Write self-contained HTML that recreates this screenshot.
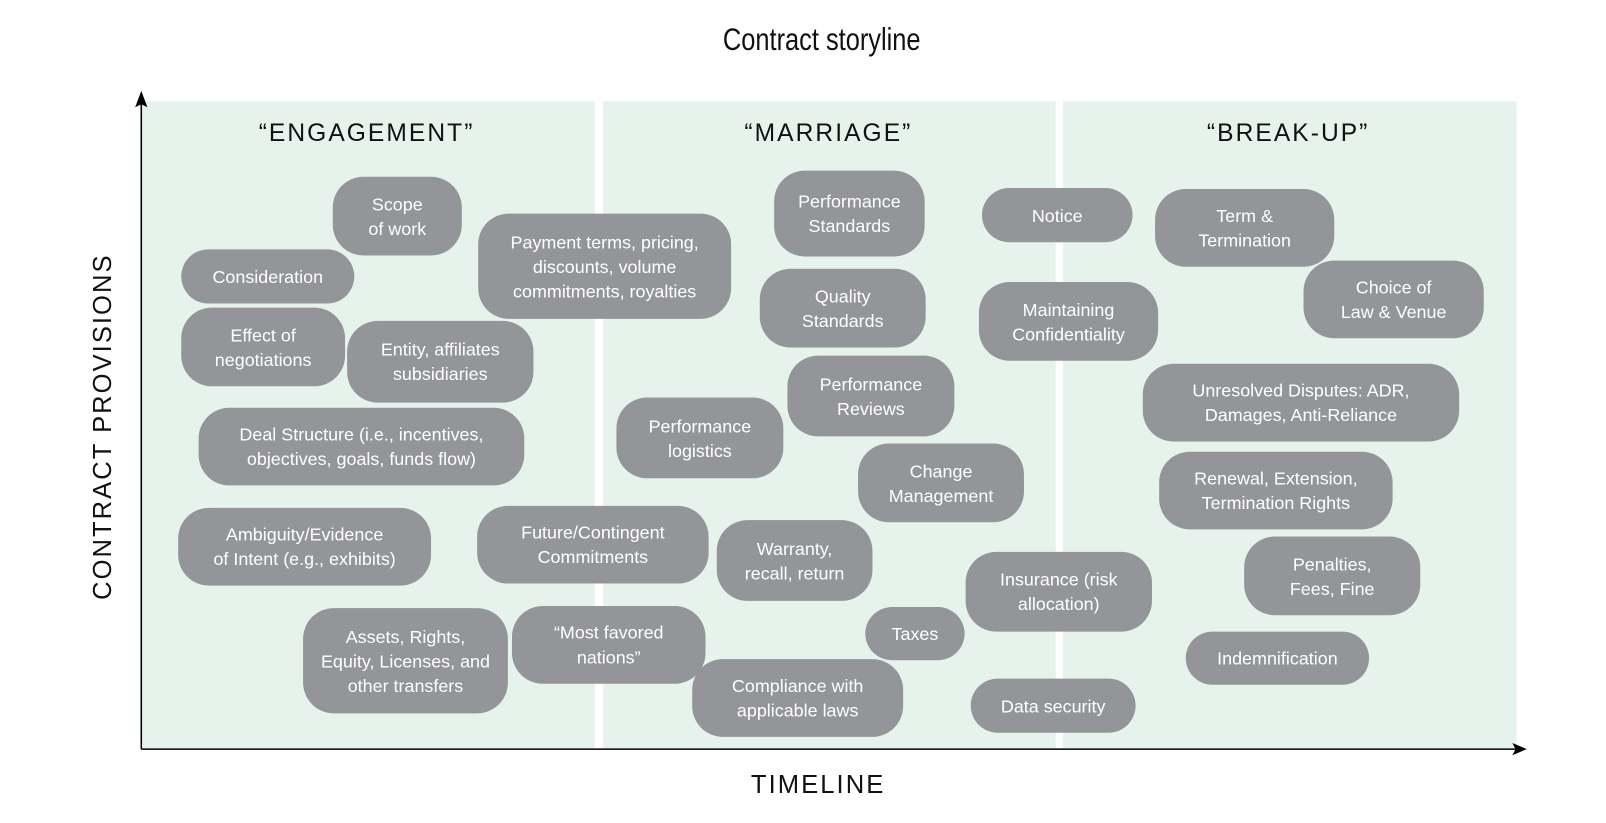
<!DOCTYPE html>
<html><head><meta charset="utf-8"><style>
html,body{margin:0;padding:0;background:#fff;width:1606px;height:823px;overflow:hidden}
#w{position:absolute;left:1px;top:1px;width:1560px;height:800px;transform:scale(1.024,1.022);transform-origin:0 0;font-family:"Liberation Sans",sans-serif}
.p{position:absolute;background:#e6f3ec;top:98px;height:633px}
.b{position:absolute;background:#939598;color:#fff;border-radius:30px;display:flex;align-items:center;justify-content:center;text-align:center;font-size:17.5px;line-height:24px;box-sizing:border-box;padding:0 8px}
.h{position:absolute;font-size:24px;letter-spacing:2px;color:#111;text-align:center}
</style></head><body><div id="w">
<div class="p" style="left:137px;width:443px"></div>
<div class="p" style="left:588px;width:442px"></div>
<div class="p" style="left:1037px;width:443px"></div>
<div style="position:absolute;left:0;width:1603px;top:20px;text-align:center;font-size:31px;transform:scaleX(0.8);color:#111">Contract storyline</div>
<div class="h" style="left:157px;width:400px;top:116px">“ENGAGEMENT”</div>
<div class="h" style="left:608px;width:400px;top:116px">“MARRIAGE”</div>
<div class="h" style="left:1057px;width:400px;top:116px">“BREAK-UP”</div>
<div class="h" style="left:598px;width:400px;top:753px;font-size:25px">TIMELINE</div>
<div class="h" style="left:-100px;width:400px;top:402px;transform:rotate(-90deg);font-size:25px">CONTRACT PROVISIONS</div>
<svg style="position:absolute;left:0;top:0" width="1560" height="800">
<line x1="137" y1="732" x2="1480" y2="732" stroke="#000" stroke-width="1.5"/>
<line x1="137" y1="732" x2="137" y2="100" stroke="#000" stroke-width="1.5"/>
<polygon points="1490,732 1476,726 1479,732 1476,738" fill="#000"/>
<polygon points="137,88 131,104 137,101 143,104" fill="#000"/>
</svg>
<div class="b" style="left:324px;top:172px;width:126px;height:77px">Scope<br>of work</div>
<div class="b" style="left:176px;top:243px;width:169px;height:53px">Consideration</div>
<div class="b" style="left:466px;top:208px;width:247px;height:103px">Payment terms, pricing,<br>discounts, volume<br>commitments, royalties</div>
<div class="b" style="left:176px;top:300px;width:160px;height:77px">Effect of<br>negotiations</div>
<div class="b" style="left:338px;top:313px;width:182px;height:80px">Entity, affiliates<br>subsidiaries</div>
<div class="b" style="left:193px;top:398px;width:318px;height:76px">Deal Structure (i.e., incentives,<br>objectives, goals, funds flow)</div>
<div class="b" style="left:173px;top:496px;width:247px;height:76px">Ambiguity/Evidence<br>of Intent (e.g., exhibits)</div>
<div class="b" style="left:465px;top:494px;width:226px;height:76px">Future/Contingent<br>Commitments</div>
<div class="b" style="left:295px;top:594px;width:200px;height:103px">Assets, Rights,<br>Equity, Licenses, and<br>other transfers</div>
<div class="b" style="left:499px;top:592px;width:189px;height:76px">“Most favored<br>nations”</div>
<div class="b" style="left:755px;top:166px;width:147px;height:84px">Performance<br>Standards</div>
<div class="b" style="left:741px;top:262px;width:162px;height:77px">Quality<br>Standards</div>
<div class="b" style="left:768px;top:347px;width:163px;height:79px">Performance<br>Reviews</div>
<div class="b" style="left:601px;top:388px;width:163px;height:79px">Performance<br>logistics</div>
<div class="b" style="left:837px;top:433px;width:162px;height:77px">Change<br>Management</div>
<div class="b" style="left:699px;top:508px;width:152px;height:79px">Warranty,<br>recall, return</div>
<div class="b" style="left:844px;top:593px;width:97px;height:52px">Taxes</div>
<div class="b" style="left:675px;top:644px;width:206px;height:76px">Compliance with<br>applicable laws</div>
<div class="b" style="left:958px;top:183px;width:147px;height:53px">Notice</div>
<div class="b" style="left:955px;top:275px;width:175px;height:77px">Maintaining<br>Confidentiality</div>
<div class="b" style="left:942px;top:539px;width:182px;height:78px">Insurance (risk<br>allocation)</div>
<div class="b" style="left:947px;top:663px;width:161px;height:53px">Data security</div>
<div class="b" style="left:1127px;top:184px;width:175px;height:76px">Term &amp;<br>Termination</div>
<div class="b" style="left:1272px;top:254px;width:176px;height:76px">Choice of<br>Law &amp; Venue</div>
<div class="b" style="left:1115px;top:355px;width:309px;height:76px">Unresolved Disputes: ADR,<br>Damages, Anti-Reliance</div>
<div class="b" style="left:1131px;top:441px;width:228px;height:76px">Renewal, Extension,<br>Termination Rights</div>
<div class="b" style="left:1214px;top:524px;width:172px;height:77px">Penalties,<br>Fees, Fine</div>
<div class="b" style="left:1157px;top:617px;width:179px;height:52px">Indemnification</div>
</div></body></html>
